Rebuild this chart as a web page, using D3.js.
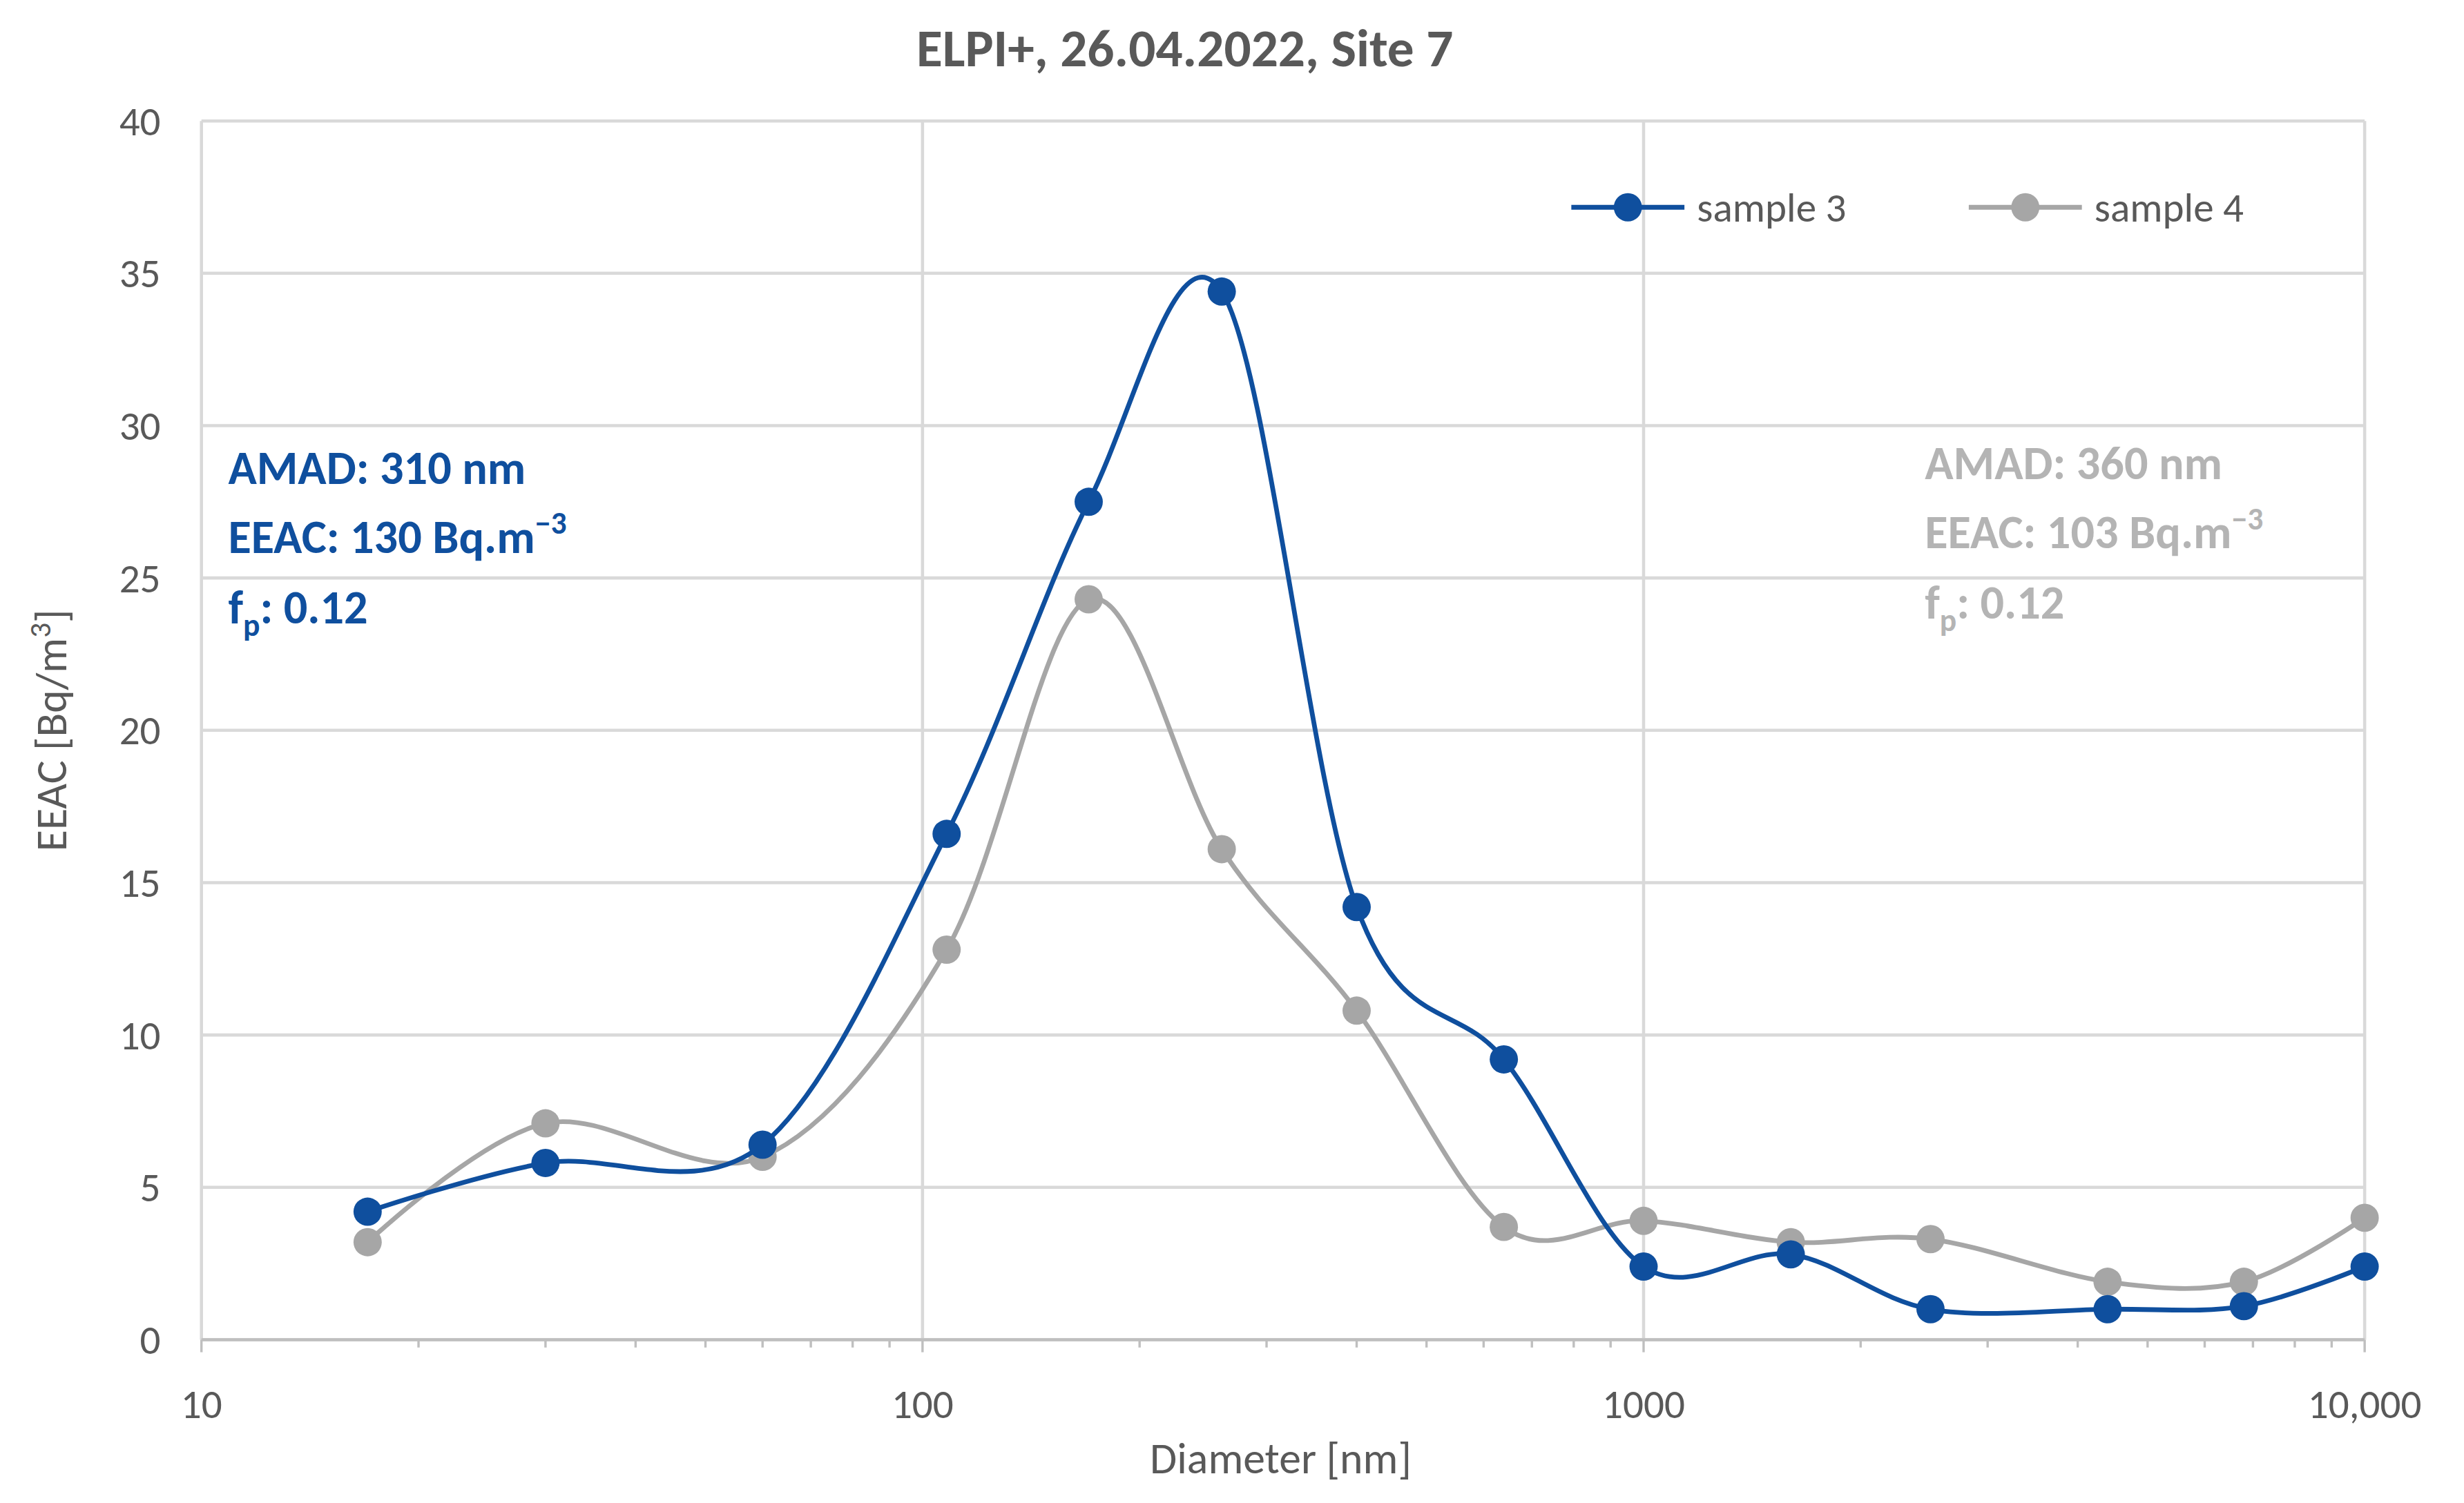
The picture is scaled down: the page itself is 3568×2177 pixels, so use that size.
<!DOCTYPE html>
<html><head><meta charset="utf-8">
<script src="https://cdn.jsdelivr.net/npm/d3@7"></script>
<style>body{margin:0;background:#fff}</style>
</head><body>
<div id="chart"></div>
<script>
const diameters = [17, 30, 60, 108, 170, 260, 400, 640, 1000, 1600, 2500, 4400, 6800, 10000]
const sample3 = [4.2, 5.8, 6.4, 16.6, 27.5, 34.4, 14.2, 9.2, 2.4, 2.8, 1.0, 1.0, 1.1, 2.4]
const sample4 = [3.2, 7.1, 6.0, 12.8, 24.3, 16.1, 10.8, 3.7, 3.9, 3.2, 3.3, 1.9, 1.9, 4.0]
const yTicks = [0, 5, 10, 15, 20, 25, 30, 35, 40]
const xTicks = [10, 100, 1000, 10000]
const xTickLabels = ['10', '100', '1000', '10,000']

const blue = '#0f4f9e', grey = '#a6a6a6', txt = '#595959'
const W = 1568, H = 957
const m = {left: 128, right: 63, top: 77, bottom: 104}

const svg = d3.select('#chart').append('svg')
    .attr('width', 3568).attr('height', 2177)
    .attr('viewBox', `0 0 ${W} ${H}`)
    .style('font-family', 'Calibri, Carlito, "Open Sans", sans-serif')

const x = d3.scaleLog().domain([10, 10000]).range([m.left, W - m.right])
const y = d3.scaleLinear().domain([0, 40]).range([H - m.bottom, m.top])

// grid
svg.append('g').selectAll('line').data(yTicks).join('line')
    .attr('x1', m.left).attr('x2', W - m.right)
    .attr('y1', d => y(d)).attr('y2', d => y(d))
    .attr('stroke', '#d9d9d9').attr('stroke-width', 2)
svg.append('g').selectAll('line').data(xTicks).join('line')
    .attr('x1', d => x(d)).attr('x2', d => x(d))
    .attr('y1', m.top).attr('y2', H - m.bottom)
    .attr('stroke', '#d9d9d9').attr('stroke-width', 2)

// x axis
const minor = []
for (let e = 10; e < 10000; e *= 10) for (let k = 2; k < 10; k++) minor.push(e * k)
svg.append('line').attr('x1', m.left).attr('x2', W - m.right)
    .attr('y1', y(0)).attr('y2', y(0)).attr('stroke', '#bfbfbf').attr('stroke-width', 2)
svg.append('g').selectAll('line').data(minor.concat(xTicks)).join('line')
    .attr('x1', d => x(d)).attr('x2', d => x(d))
    .attr('y1', y(0)).attr('y2', d => y(0) + (xTicks.includes(d) ? 8 : 5))
    .attr('stroke', '#bfbfbf').attr('stroke-width', 1.5)
svg.append('g').selectAll('text').data(xTicks).join('text')
    .attr('x', d => x(d)).attr('y', y(0) + 50)
    .attr('text-anchor', 'middle').attr('font-size', 26).attr('fill', txt)
    .text((d, i) => xTickLabels[i])
svg.append('g').selectAll('text').data(yTicks).join('text')
    .attr('x', m.left - 26).attr('y', d => y(d) + 9)
    .attr('text-anchor', 'end').attr('font-size', 26).attr('fill', txt)
    .text(d => d)

svg.append('text').attr('x', x(100) + 228).attr('y', 938)
    .attr('text-anchor', 'middle').attr('font-size', 28).attr('fill', txt)
    .text('Diameter [nm]')
const yl = svg.append('text').attr('transform', `translate(42,${(m.top + H - m.bottom) / 2}) rotate(-90)`)
    .attr('text-anchor', 'middle').attr('font-size', 28).attr('fill', txt)
yl.append('tspan').text('EEAC [Bq/m')
yl.append('tspan').attr('font-size', 19).attr('dy', -10).text('3')
yl.append('tspan').attr('dy', 10).text(']')

svg.append('text').attr('x', W / 2 - 30).attr('y', 42)
    .attr('text-anchor', 'middle').attr('font-size', 34).attr('font-weight', 'bold').attr('fill', txt)
    .text('ELPI+, 26.04.2022, Site 7')

// series
const line = d3.line().x(d => x(d[0])).y(d => y(d[1])).curve(d3.curveCatmullRom.alpha(0))
function drawSeries(vals, color) {
    const pts = diameters.map((d, i) => [d, vals[i]])
    svg.append('path').datum(pts).attr('d', line)
        .attr('fill', 'none').attr('stroke', color).attr('stroke-width', 3)
    svg.append('g').selectAll('circle').data(pts).join('circle')
        .attr('cx', d => x(d[0])).attr('cy', d => y(d[1])).attr('r', 9)
        .attr('fill', color)
}
drawSeries(sample4, grey)
drawSeries(sample3, blue)

// legend
const legend = [['sample 3', blue, 1000], ['sample 4', grey, 1253]]
legend.forEach(([name, color, lx]) => {
    svg.append('line').attr('x1', lx).attr('x2', lx + 72).attr('y1', 132).attr('y2', 132)
        .attr('stroke', color).attr('stroke-width', 3)
    svg.append('circle').attr('cx', lx + 36).attr('cy', 132).attr('r', 9).attr('fill', color)
    svg.append('text').attr('x', lx + 80).attr('y', 141).attr('font-size', 26).attr('fill', txt).text(name)
})

// annotations
function annot(ax, ay, color, amad, eeac) {
    const g = svg.append('g').attr('font-size', 30).attr('font-weight', 'bold').attr('fill', color)
    g.append('text').attr('x', ax).attr('y', ay).text(`AMAD: ${amad} nm`)
    const t = g.append('text').attr('x', ax).attr('y', ay + 44)
    t.append('tspan').text(`EEAC: ${eeac} Bq.m`)
    t.append('tspan').attr('font-size', 20).attr('dy', -12).text('−3')
    const f = g.append('text').attr('x', ax).attr('y', ay + 89)
    f.append('tspan').text('f')
    f.append('tspan').attr('font-size', 20).attr('dy', 8).text('p')
    f.append('tspan').attr('dy', -8).text(': 0.12')
}
annot(145, 308, blue, 310, 130)
annot(1225, 305, '#b4b4b4', 360, 103)
</script>
</body></html>
